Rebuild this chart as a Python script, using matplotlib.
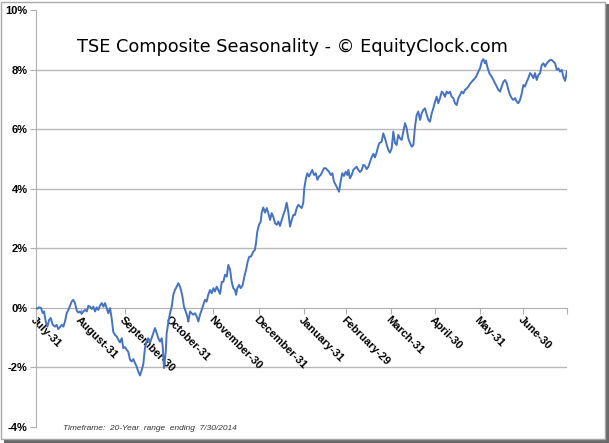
import matplotlib
matplotlib.use('Agg')
import matplotlib.pyplot as plt
from matplotlib.patches import Rectangle
import numpy as np

# days since July 31 (average seasonal year), cumulative gain in %
days = [0, 0.9, 2.1, 3.4, 4.6, 5.5, 6.7, 7.8, 9.1, 10.1, 11.5, 13.1, 14.2, 15.3, 16.5,
        17.7, 18.8, 19.9, 21.1, 22.2, 23.4, 24.5, 25.6, 26.8, 28.0, 29.1, 30.2, 31.4,
        32.5, 33.7, 34.9, 36.0, 37.1, 38.3, 39.4, 40.6, 41.7, 42.8, 44.0, 45.2, 46.3,
        47.4, 48.6, 49.7, 50.9, 52.0, 53.1, 54.3, 55.5, 56.6, 57.7, 58.9, 60.0, 61.2,
        62.3, 63.4, 64.6, 65.8, 66.9, 68.1, 69.2, 70.3, 71.5, 72.7, 73.8, 74.9, 76.1,
        77.2, 78.4, 79.5, 80.6, 81.8, 83.0, 84.1, 85.2, 86.4, 87.1, 88.0, 89.2, 89.8,
        90.9, 92.1, 93.3, 94.4, 95.5, 96.7, 97.8, 99.0, 100.2, 100.8, 101.7, 102.9,
        104.0, 104.7, 105.9, 107.0, 108.1, 109.3, 110.5, 111.6, 112.7, 113.9, 115.0,
        116.2, 117.3, 118.4, 119.6, 120.8, 121.9, 123.0, 124.2, 125.3, 126.5, 127.7,
        128.8, 129.9, 131.1, 132.2, 133.4, 134.5, 135.6, 136.8, 137.5, 138.4, 139.7,
        140.7, 142.1, 143.2, 144.4, 145.5, 146.6, 147.8, 149.4, 150.5, 151.2, 152.1,
        153.3, 154.5, 155.1, 156.2, 157.4, 158.6, 159.7, 160.9, 162.0, 163.1, 164.3,
        165.5, 166.6, 167.7, 168.9, 170.0, 171.2, 172.3, 173.4, 174.6, 175.8, 176.9,
        178.0, 179.2, 180.3, 181.5, 182.6, 183.7, 184.4, 185.6, 186.5, 187.7, 188.8,
        189.9, 191.1, 192.3, 193.4, 194.5, 195.7, 196.8, 198.0, 199.1, 200.2, 201.4,
        202.6, 203.7, 204.8, 206.0, 207.1, 208.3, 209.4, 210.5, 211.7, 212.9, 214.0,
        214.7, 215.8, 217.0, 218.1, 219.3, 220.4, 221.6, 222.7, 223.9, 225.0, 226.1,
        227.3, 228.4, 229.6, 230.8, 231.9, 233.0, 234.2, 235.3, 236.0, 237.6, 238.7,
        239.9, 241.1, 242.2, 243.3, 244.5, 245.6, 246.8, 247.9, 249.0, 250.2, 251.4,
        252.5, 253.7, 254.8, 255.9, 257.1, 258.3, 259.4, 260.5, 261.7, 262.8, 264.0,
        265.1, 266.2, 267.4, 268.6, 269.7, 270.8, 272.0, 273.1, 274.3, 275.4, 276.5,
        277.7, 278.9, 280.0, 281.1, 282.3, 283.4, 284.6, 285.7, 286.9, 288.0, 289.2,
        290.3, 291.5, 292.6, 293.7, 294.9, 296.1, 297.2, 298.3, 299.5, 300.6, 301.8,
        302.9, 304.0, 305.2, 306.4, 307.5, 308.7, 309.3, 310.2, 311.6, 313.2, 314.4,
        315.5, 316.7, 317.8, 319.0, 320.1, 321.3, 322.4, 323.6, 324.7, 325.8, 327.0,
        328.1, 329.3, 330.4, 331.5, 332.7, 333.9, 335.0, 336.1, 337.3, 338.4, 339.6,
        340.7, 341.9, 343.0, 344.2, 345.3, 346.5, 347.6, 348.8, 349.9, 351.1, 352.2,
        353.3, 354.5, 355.6, 356.8, 358.0, 359.1, 360.2, 361.4, 362.5, 363.7, 364.9]

gain = [-0.01, -0.03, 0.02, 0.00, -0.17, -0.12, -0.46, -0.63, -0.40, -0.34, -0.57, -0.63,
        -0.57, -0.71, -0.65, -0.57, -0.63, -0.46, -0.18, -0.07, 0.07, 0.21, 0.27, 0.16,
        -0.09, -0.16, -0.12, -0.20, -0.12, -0.07, -0.12, 0.07, 0.04, -0.04, 0.04, -0.12,
        0.02, -0.07, 0.07, 0.16, 0.04, 0.16, -0.01, -0.18, -0.01, -0.35, -0.80, -0.91,
        -0.96, -1.07, -1.16, -1.02, -1.35, -1.32, -1.41, -1.47, -1.74, -1.80, -1.72,
        -1.86, -1.97, -2.14, -2.27, -2.08, -1.88, -1.34, -1.13, -1.02, -1.17, -1.01,
        -0.85, -0.68, -0.85, -1.02, -1.13, -1.02, -1.30, -2.02, -1.47, -0.85, -0.51,
        -0.18, 0.04, 0.44, 0.60, 0.71, 0.83, 0.71, 0.49, 0.34, 0.04, -0.12, -0.29,
        -0.46, -0.12, -0.18, -0.23, -0.18, -0.29, -0.46, -0.23, -0.07, 0.10, 0.27,
        0.21, 0.44, 0.60, 0.49, 0.66, 0.55, 0.71, 0.60, 0.47, 0.87, 0.88, 1.11, 1.05,
        1.44, 1.28, 0.88, 0.66, 0.60, 0.44, 0.66, 0.77, 0.66, 0.77, 1.05, 1.28, 1.55,
        1.72, 1.72, 1.89, 1.95, 2.17, 2.56, 2.79, 2.90, 3.18, 3.37, 3.20, 3.35, 3.18,
        2.95, 3.18, 3.06, 2.84, 2.79, 2.90, 2.75, 2.95, 3.12, 3.29, 3.53, 3.23, 2.73,
        2.95, 3.12, 3.12, 3.35, 3.46, 3.40, 3.35, 3.51, 4.02, 4.35, 4.52, 4.41, 4.52,
        4.63, 4.46, 4.52, 4.30, 4.41, 4.46, 4.57, 4.69, 4.69, 4.63, 4.57, 4.46, 4.52,
        4.24, 4.13, 4.02, 3.90, 4.24, 4.52, 4.43, 4.57, 4.46, 4.63, 4.35, 4.46, 4.63,
        4.69, 4.74, 4.63, 4.56, 4.63, 4.80, 4.77, 4.66, 4.73, 4.90, 5.07, 5.17, 5.05,
        5.23, 5.44, 5.53, 5.58, 5.86, 5.69, 5.47, 5.30, 5.21, 5.36, 5.92, 5.53, 5.47,
        5.81, 5.69, 5.64, 5.92, 6.20, 6.03, 5.69, 5.53, 5.41, 5.47, 6.08, 6.48, 6.59,
        6.31, 6.53, 6.64, 6.70, 6.48, 6.31, 6.25, 6.53, 6.70, 6.92, 7.09, 6.87, 7.04,
        7.26, 7.20, 7.09, 7.26, 7.20, 7.26, 7.09, 7.04, 6.87, 6.81, 7.04, 7.15, 7.26,
        7.20, 7.32, 7.37, 7.43, 7.52, 7.59, 7.65, 7.71, 7.80, 7.93, 8.04, 8.27, 8.35,
        8.21, 8.30, 8.10, 7.88, 7.76, 7.65, 7.54, 7.43, 7.32, 7.26, 7.43, 7.59, 7.65,
        7.54, 7.32, 7.15, 7.04, 6.98, 7.04, 6.92, 6.87, 6.98, 7.20, 7.48, 7.43, 7.59,
        7.71, 7.88, 7.82, 7.71, 7.88, 7.65, 7.82, 7.88, 8.15, 8.21, 8.10, 8.21, 8.27,
        8.32, 8.32, 8.27, 8.21, 7.99, 8.04, 7.93, 7.99, 7.76, 7.62, 7.94]

month_days = [0, 31, 61, 92, 122, 153, 184, 213, 244, 274, 305, 335, 365]
month_labels = ['July-31', 'August-31', 'September-30', 'October-31', 'November-30',
                'December-31', 'January-31', 'February-29', 'March-31', 'April-30',
                'May-31', 'June-30', '']
y_ticks = [-4, -2, 0, 2, 4, 6, 8, 10]

plt.rcParams['font.family'] = ['Liberation Sans', 'DejaVu Sans']

fig = plt.figure(figsize=(6.09, 4.43), dpi=100)
ax = fig.add_axes([36 / 609, 16 / 443, 531 / 609, 417 / 443])

# gridlines
for yv in [-2, 2, 4, 6, 8]:
    ax.axhline(yv, color='#b8b8b8', lw=1.0, zorder=1)

ax.plot(days, gain, color='#4472C4', lw=1.4, zorder=3)

ax.set_xlim(0, 365)
ax.set_ylim(-4, 10)

ax.spines['top'].set_visible(False)
ax.spines['right'].set_visible(False)
ax.spines['left'].set_color('#b0b0b0')
ax.spines['bottom'].set_position(('data', 0))
ax.spines['bottom'].set_color('#b0b0b0')
ax.spines['bottom'].set_zorder(2)

ax.set_yticks(y_ticks)
ax.set_yticklabels([f'{v}%' for v in y_ticks], fontsize=8, fontweight='bold')
ax.tick_params(axis='y', direction='out', length=4, color='#b0b0b0', pad=2)

ax.set_xticks(month_days)
ax.set_xticklabels(month_labels, fontsize=8, fontweight='bold', rotation=-45,
                   ha='left', va='top', rotation_mode='anchor')
ax.tick_params(axis='x', direction='out', length=4, color='#b0b0b0', pad=1)

fig.text(0.48, 0.893, 'TSE Composite Seasonality - \u00a9 EquityClock.com',
         family='DejaVu Sans', fontsize=12.8, ha='center', va='center')
fig.text(63 / 609, 1 - 429 / 443, 'Timeframe:  20-Year  range  ending  7/30/2014',
         fontsize=6, style='italic', color='#333333', ha='left', va='center')

# frame with drop shadow
fig.add_artist(Rectangle((4 / 609, 0), 605 / 609, 439 / 443, transform=fig.transFigure,
                         facecolor='#6a6a6a', edgecolor='none', zorder=-2))
fig.add_artist(Rectangle((1 / 609, 4 / 443), 604 / 609, 437 / 443, transform=fig.transFigure,
                         facecolor='white', edgecolor='#a8a8a8', lw=1, zorder=-1))

plt.savefig('out.png', dpi=100)
